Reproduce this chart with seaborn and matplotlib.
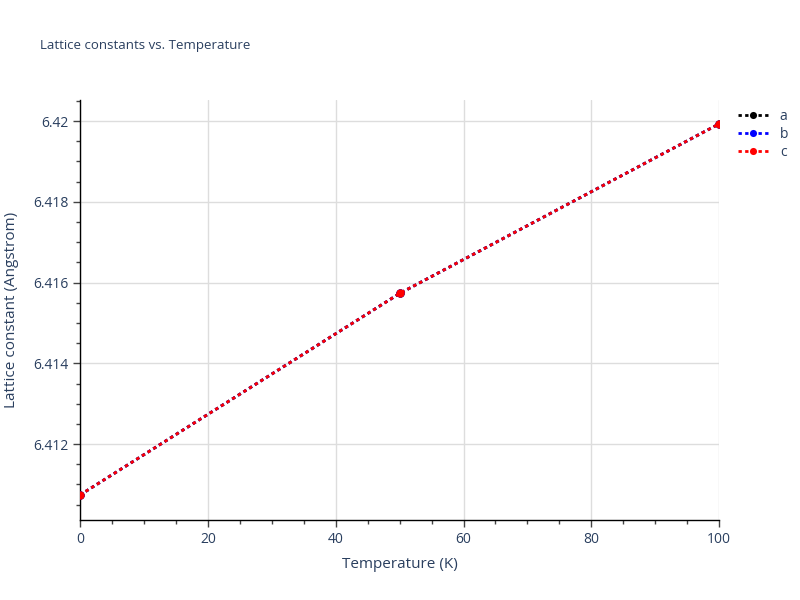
import numpy as np
import pandas as pd
import matplotlib.pyplot as plt
import seaborn as sns
from matplotlib.ticker import MultipleLocator

temperature = [0, 50, 100]
lat_a = [6.41074, 6.41573, 6.41993]
lat_b = [6.41074, 6.41573, 6.41993]
lat_c = [6.41074, 6.41573, 6.41993]
series_names = ['a', 'b', 'c']
series_colors = ['black', 'blue', 'red']

df = pd.DataFrame({
    'Temperature': temperature * 3,
    'value': lat_a + lat_b + lat_c,
    'axis': ['a'] * 3 + ['b'] * 3 + ['c'] * 3,
})

sns.set_style('white')
plt.rcParams['font.family'] = ['Open Sans', 'DejaVu Sans']
text_color = '#2a3f5f'

fig = plt.figure(figsize=(8, 6), dpi=100)
ax = fig.add_axes([0.1, 0.1333, 0.799, 0.7])

sns.lineplot(data=df, x='Temperature', y='value', hue='axis',
             hue_order=series_names, palette=series_colors,
             marker='o', markersize=6, markeredgewidth=0,
             linestyle=(0, (1.2, 1.2)), linewidth=2, ax=ax, zorder=3)

ax.set_xlim(0, 100)
ax.set_ylim(6.41012, 6.42052)
ax.xaxis.set_major_locator(MultipleLocator(20))
ax.xaxis.set_minor_locator(MultipleLocator(5))
ax.yaxis.set_major_locator(MultipleLocator(0.002))
ax.yaxis.set_minor_locator(MultipleLocator(0.0005))
ax.yaxis.set_major_formatter(plt.FuncFormatter(lambda v, p: f'{v:.3f}'.rstrip('0')))

ax.grid(True, which='major', color='#dddddd', linewidth=1, zorder=0)
ax.set_axisbelow(True)
for s in ['top', 'right']:
    ax.spines[s].set_visible(False)
for s in ['left', 'bottom']:
    ax.spines[s].set_color('black')
    ax.spines[s].set_linewidth(1)

ax.tick_params(axis='both', which='major', direction='out', length=5, width=1,
               color='#444444', labelcolor=text_color, labelsize=10, left=True, bottom=True)
ax.tick_params(axis='both', which='minor', direction='out', length=3, width=1,
               color='#444444', left=True, bottom=True)

ax.set_xlabel('Temperature (K)', color=text_color, fontsize=11, labelpad=7)
ax.set_ylabel('Lattice constant (Angstrom)', color=text_color, fontsize=11, labelpad=10)
fig.text(0.05, 0.925, 'Lattice constants vs. Temperature', color=text_color,
         fontsize=9.5, ha='left', va='center')

leg = ax.legend(loc='upper left', bbox_to_anchor=(1.01, 1.008), frameon=False,
                fontsize=10, handlelength=2.2, labelspacing=0.2,
                markerscale=0.85, labelcolor=text_color)

fig.savefig('out.png', dpi=100)
